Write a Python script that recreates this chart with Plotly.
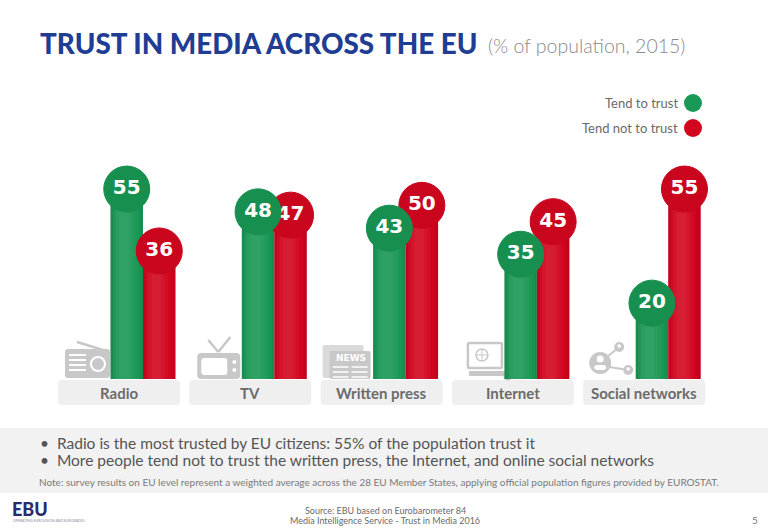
import plotly.graph_objects as go

# data
categories = ["Radio", "TV", "Written press", "Internet", "Social networks"]
trust = [55, 48, 43, 35, 20]
distrust = [36, 47, 50, 45, 55]
series_names = ["Tend to trust", "Tend not to trust"]

title = "TRUST IN MEDIA ACROSS THE EU"
subtitle = "(% of population, 2015)"
bullets = ["Radio is the most trusted by EU citizens: 55% of the population trust it",
           "More people tend not to trust the written press, the Internet, and online social networks"]
note = ("Note: survey results on EU level represent a weighted average across the 28 EU Member States, "
        "applying official population figures provided by EUROSTAT.")
source = ["Source: EBU based on Eurobarometer 84", "Media Intelligence Service - Trust in Media 2016"]
page_no = "5"

# look
W, H = 768, 530
GREEN, RED = "#1a9856", "#d2051f"
GREEN_DOT, RED_DOT = "#178f4f", "#c9061e"
ICON = "#c8c8c8"
TXT = "#6b6b6b"
BARGAP = 0.505
X_RANGE = [-1.089, 4.760]
Y_RANGE = [-49.6, 113.0]
BAR_BASE = -3.3


def xp(px):
    return px / W


def yp(py):
    return 1 - py / H


def cat_px(i):
    # pixel centre of a category group, from the x axis range
    return (i - X_RANGE[0]) / (X_RANGE[1] - X_RANGE[0]) * W


def label(text, x, y, size, color, family="Lato", weight="normal", xanchor="center", **kw):
    return dict(text=text, x=xp(x), y=yp(y), xref="paper", yref="paper", xanchor=xanchor, yanchor="middle",
                showarrow=False, font=dict(family=family, size=size, color=color, weight=weight), **kw)


def rrect(x0, y0, x1, y1, r, fill, line_color=None, line_width=0):
    rx, ry = r / W, r / H
    a, b, c, d = xp(x0), yp(y0), xp(x1), yp(y1)
    path = (f"M{a + rx},{b} L{c - rx},{b} Q{c},{b} {c},{b - ry} L{c},{d + ry} Q{c},{d} {c - rx},{d} "
            f"L{a + rx},{d} Q{a},{d} {a},{d + ry} L{a},{b - ry} Q{a},{b} {a + rx},{b} Z")
    return dict(type="path", path=path, xref="paper", yref="paper", fillcolor=fill, layer="below",
                line=dict(color=line_color or fill, width=line_width))


def circle(cx, cy, r, fill, line_color=None, line_width=0, layer="below"):
    return dict(type="circle", xref="paper", yref="paper", x0=xp(cx - r), x1=xp(cx + r),
                y0=yp(cy + r), y1=yp(cy - r), fillcolor=fill, layer=layer,
                line=dict(color=line_color or fill, width=line_width))


def line(x0, y0, x1, y1, color=ICON, width=2.5):
    return dict(type="line", xref="paper", yref="paper", x0=xp(x0), y0=yp(y0), x1=xp(x1), y1=yp(y1),
                layer="below", line=dict(color=color, width=width))


def radio_icon(cx):
    s = [line(cx - 66, 342, cx - 40, 350),
         rrect(cx - 78, 349, cx - 33, 378, 3, ICON)]
    for yy in (355, 360, 365, 370):
        s.append(line(cx - 74, yy, cx - 57, yy, "white", 2))
    s.append(circle(cx - 45, 364, 7, ICON, "white", 2))
    return s, []


def tv_icon(cx):
    s = [line(cx - 66, 340, cx - 56, 352), line(cx - 56, 352, cx - 44, 337),
         rrect(cx - 77, 353, cx - 34, 379, 4, ICON),
         rrect(cx - 73, 358, cx - 47, 375, 3, "white"),
         circle(cx - 40, 362, 2, "white"), circle(cx - 40, 370, 2, "white")]
    return s, []


def news_icon(cx):
    s = [rrect(cx - 83, 345, cx - 42, 378, 2, "#dadada"),
         rrect(cx - 76, 351, cx - 35, 379, 2, ICON)]
    for yy in (367, 372, 377):
        s.append(line(cx - 73, yy, cx - 57, yy, "white", 1.5))
        s.append(line(cx - 54, yy, cx - 38, yy, "white", 1.5))
    a = [label("<b>NEWS</b>", cx - 55, 358, 9, "white", family="DejaVu Sans")]
    return s, a


def internet_icon(cx):
    s = [rrect(cx - 69, 343, cx - 35, 368, 1, "white", ICON, 2.5),
         circle(cx - 55, 355, 6, "white", ICON, 1.5),
         line(cx - 61, 355, cx - 49, 355, ICON, 1),
         line(cx - 55, 349, cx - 55, 361, ICON, 1),
         rrect(cx - 68, 371, cx - 32, 376, 1, ICON),
         circle(cx - 29, 376, 3.5, "white", ICON, 2)]
    return s, []


def social_icon(cx):
    s = [line(cx - 60, 356, cx - 49, 347, ICON, 2), line(cx - 59, 367, cx - 40, 370, ICON, 2),
         circle(cx - 68, 363, 11, ICON),
         circle(cx - 68, 359, 3.5, "white"),
         rrect(cx - 74, 365, cx - 62, 370, 3, "white"),
         circle(cx - 49, 347, 5, ICON), circle(cx - 49, 346, 1.8, "white"),
         circle(cx - 40, 370, 5, ICON), circle(cx - 40, 369, 1.8, "white")]
    return s, []


icons = [radio_icon, tv_icon, news_icon, internet_icon, social_icon]

pos = list(range(len(categories)))
bar_w = (1 - BARGAP) / 2

fig = go.Figure()
for k, (vals, color, name) in enumerate(zip([trust, distrust], [GREEN, RED], series_names)):
    off = -bar_w + k * bar_w
    heights = [v - BAR_BASE for v in vals]
    fig.add_trace(go.Bar(x=pos, y=heights, base=BAR_BASE, name=name, width=bar_w, offset=off,
                         marker=dict(color=color, line_width=0), hoverinfo="skip"))
    # soft cylinder shading: stacked faint bands, lighter toward the middle-left
    for frac in (0.7, 0.5, 0.3):
        fig.add_trace(go.Bar(x=pos, y=heights, base=BAR_BASE, width=bar_w * frac,
                             offset=off + bar_w * (0.42 - frac / 2),
                             marker=dict(color="rgba(255,255,255,0.035)", line_width=0), hoverinfo="skip"))
    for frac in (0.14, 0.07):
        fig.add_trace(go.Bar(x=pos, y=heights, base=BAR_BASE, width=bar_w * frac, offset=off + bar_w * (1 - frac),
                             marker=dict(color="rgba(0,0,0,0.04)", line_width=0), hoverinfo="skip"))
        fig.add_trace(go.Bar(x=pos, y=heights, base=BAR_BASE, width=bar_w * frac, offset=off,
                             marker=dict(color="rgba(0,0,0,0.04)", line_width=0), hoverinfo="skip"))

# red circles first so the green ones sit on top
half = bar_w / 2
for vals, shift, color, name in [(distrust, half, RED_DOT, series_names[1]),
                                 (trust, -half, GREEN_DOT, series_names[0])]:
    fig.add_trace(go.Scatter(x=[p + shift for p in pos], y=vals, mode="markers+text", name=name,
                             text=[str(v) for v in vals], textposition="middle center",
                             textfont=dict(family="DejaVu Sans", size=20, color="white", weight="bold"),
                             marker=dict(size=46, color=color, line=dict(color=color, width=1))))

shapes = [dict(type="rect", xref="paper", yref="paper", x0=0, x1=1, y0=yp(493), y1=yp(428),
               fillcolor="#f2f2f2", line_width=0, layer="below")]
annotations = []

for i, cat in enumerate(categories):
    cx = cat_px(i)
    shapes.append(rrect(cx - 85, 380, cx + 37, 405, 4, "#efefef"))
    annotations.append(label(f"<b>{cat}</b>", cx - 24, 393, 15, TXT))
    s, a = icons[i](cx)
    shapes += s
    annotations += a

# legend on the right, text then dot
for k, (name, color) in enumerate(zip(series_names, [GREEN, RED])):
    yy = 103 + 25 * k
    annotations.append(label(name, 680, yy, 13, "#6a6a6a", xanchor="right"))
    shapes.append(circle(693, yy, 9, color, layer="above"))

annotations += [
    label(title, 38, 44, 27.8, "#1f3e93", weight=900, xanchor="left"),
    label(subtitle, 486, 46, 19.5, "#8a8a8a", weight=300, xanchor="left"),
    label(note, 37, 482, 10, "#7a7a7a", xanchor="left"),
    label("EBU", 10, 509, 18, "#2a2b6c", weight=900, xanchor="left"),
    label("OPERATING EUROVISION AND EURORADIO", 11, 521, 3.5, "#8a8a9a", xanchor="left"),
    label(source[0], 385, 510, 9, "#6a6a6a"),
    label(source[1], 385, 520, 9, "#6a6a6a"),
    label(page_no, 755, 520, 10, "#777777"),
]
for k, b in enumerate(bullets):
    annotations.append(label("•  " + b, 38, 443 + 17 * k, 15.5, "#555555", xanchor="left"))

fig.update_layout(width=W, height=H, margin=dict(l=0, r=0, t=0, b=0),
                  paper_bgcolor="white", plot_bgcolor="white", showlegend=False,
                  barmode="overlay", bargap=BARGAP, bargroupgap=0,
                  xaxis=dict(range=X_RANGE, visible=False, fixedrange=True),
                  yaxis=dict(range=Y_RANGE, visible=False, fixedrange=True),
                  shapes=shapes, annotations=annotations)

fig.write_html("out.html", config={"displayModeBar": False},
               post_script="document.body.style.margin='0';")
